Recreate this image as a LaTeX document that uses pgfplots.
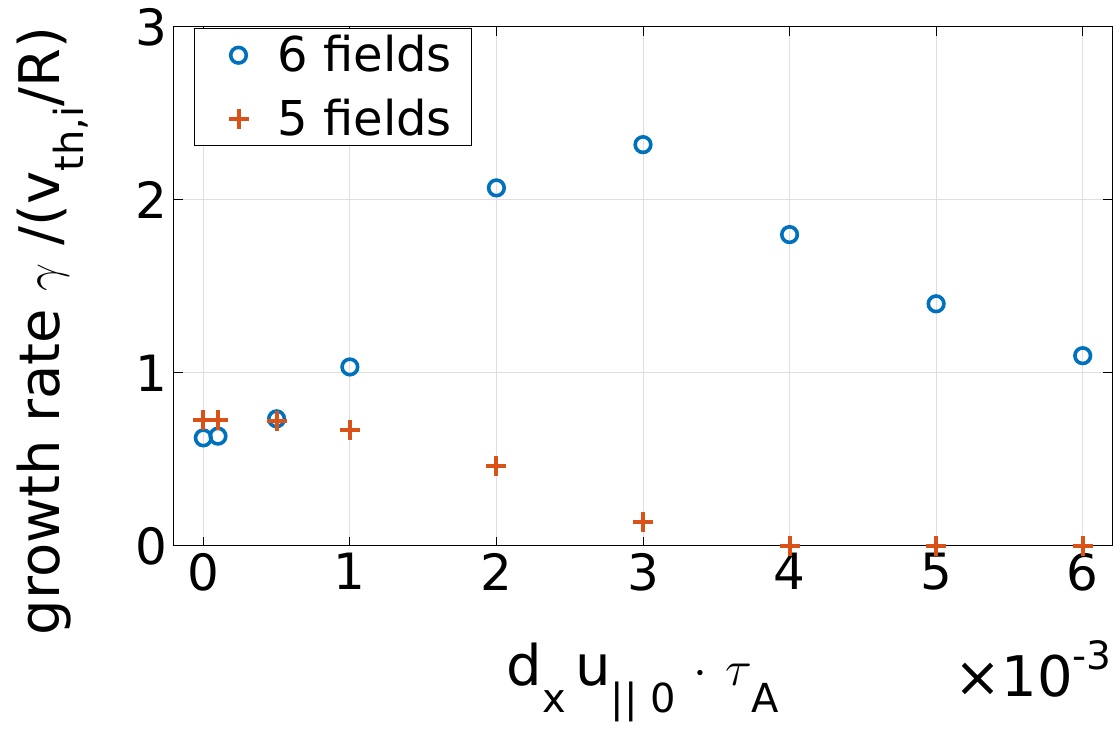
\documentclass[border=0pt]{standalone}
\usepackage{pgfplots}
\pgfplotsset{compat=1.18}
\usepackage{fontspec}
\usepackage{graphicx}
\setmainfont{DejaVu Sans}
\definecolor{mblue}{RGB}{0,114,189}
\definecolor{morange}{RGB}{217,83,25}
\newcommand\sub[2]{\raisebox{-#1}{\fontsize{20}{20}\selectfont #2}}
\pgfplotsset{my legend/.style={legend image code/.code={\path[draw=none,fill=none] (-12pt,0pt) (12pt,0pt); \draw[##1] plot coordinates {(0pt,0pt)};}}}
\begin{document}
\begin{tikzpicture}
\begin{axis}[
  scale only axis,
  width=469pt, height=259.5pt,
  xmin=-0.2, xmax=6.2, ymin=0, ymax=3,
  xtick={0,1,2,3,4,5,6}, ytick={0,1,2,3},
  tick align=inside, major tick length=4.5pt,
  tick style={black, line width=0.5pt},
  axis line style={line width=0.5pt},
  grid=major,
  major grid style={line width=0.5pt, color=black!13},
  tick label style={font=\fontsize{25}{30}\selectfont},
  /pgf/number format/assume math mode=true,
  xlabel={d\sub{13.5pt}{x}\,u\sub{13.5pt}{|| 0} $\cdot$ $\tau$\sub{13.5pt}{A}},
  xlabel style={at={(rel axis cs:0.5,0)}, anchor=base, yshift=-69.5pt, font=\fontsize{28}{34}\selectfont},
  ylabel={growth rate $\gamma$ /(v\sub{12pt}{th,i}/R)},
  ylabel style={at={([xshift=-57pt]rel axis cs:0,0.414)}, anchor=base, rotate=0, font=\fontsize{28}{34}\selectfont},
  legend cell align=left,
  legend style={at={(rel axis cs:0,1)}, anchor=north west, xshift=10pt, yshift=-0.5pt,
    draw=black, line width=0.5pt, font=\fontsize{24}{29}\selectfont,
    nodes={inner sep=0pt},
    inner xsep=10pt, inner ysep=3.5pt, row sep=12pt, column sep=7.5pt},
]
\addplot[only marks, mark=o, mark size=3.9pt, line width=1.8pt, color=mblue, my legend] coordinates {
 (0,0.625) (0.1,0.635) (0.5,0.735) (1,1.035) (2,2.07) (3,2.32) (4,1.80) (5,1.40) (6,1.10)};
\addlegendentry{6 fields}
\addplot[only marks, mark=+, mark size=5pt, line width=2pt, color=morange, my legend] coordinates {
 (0,0.73) (0.1,0.73) (0.5,0.72) (1,0.67) (2,0.465) (3,0.14) (4,0) (5,0) (6,0)};
\addlegendentry{5 fields}
\coordinate (bl) at (rel axis cs:0,0);
\coordinate (tr) at (rel axis cs:1,1);
\end{axis}
\node[anchor=base east, font=\fontsize{28}{34}\selectfont, inner sep=0pt] at ([xshift=0pt,yshift=-75.5pt]bl -| tr) {×10\raisebox{13.5pt}{\fontsize{19.5}{20}\selectfont -3}};
\path ([xshift=-87pt,yshift=-95pt]bl) rectangle ([xshift=2pt,yshift=13.5pt]tr);
\end{tikzpicture}
\end{document}
